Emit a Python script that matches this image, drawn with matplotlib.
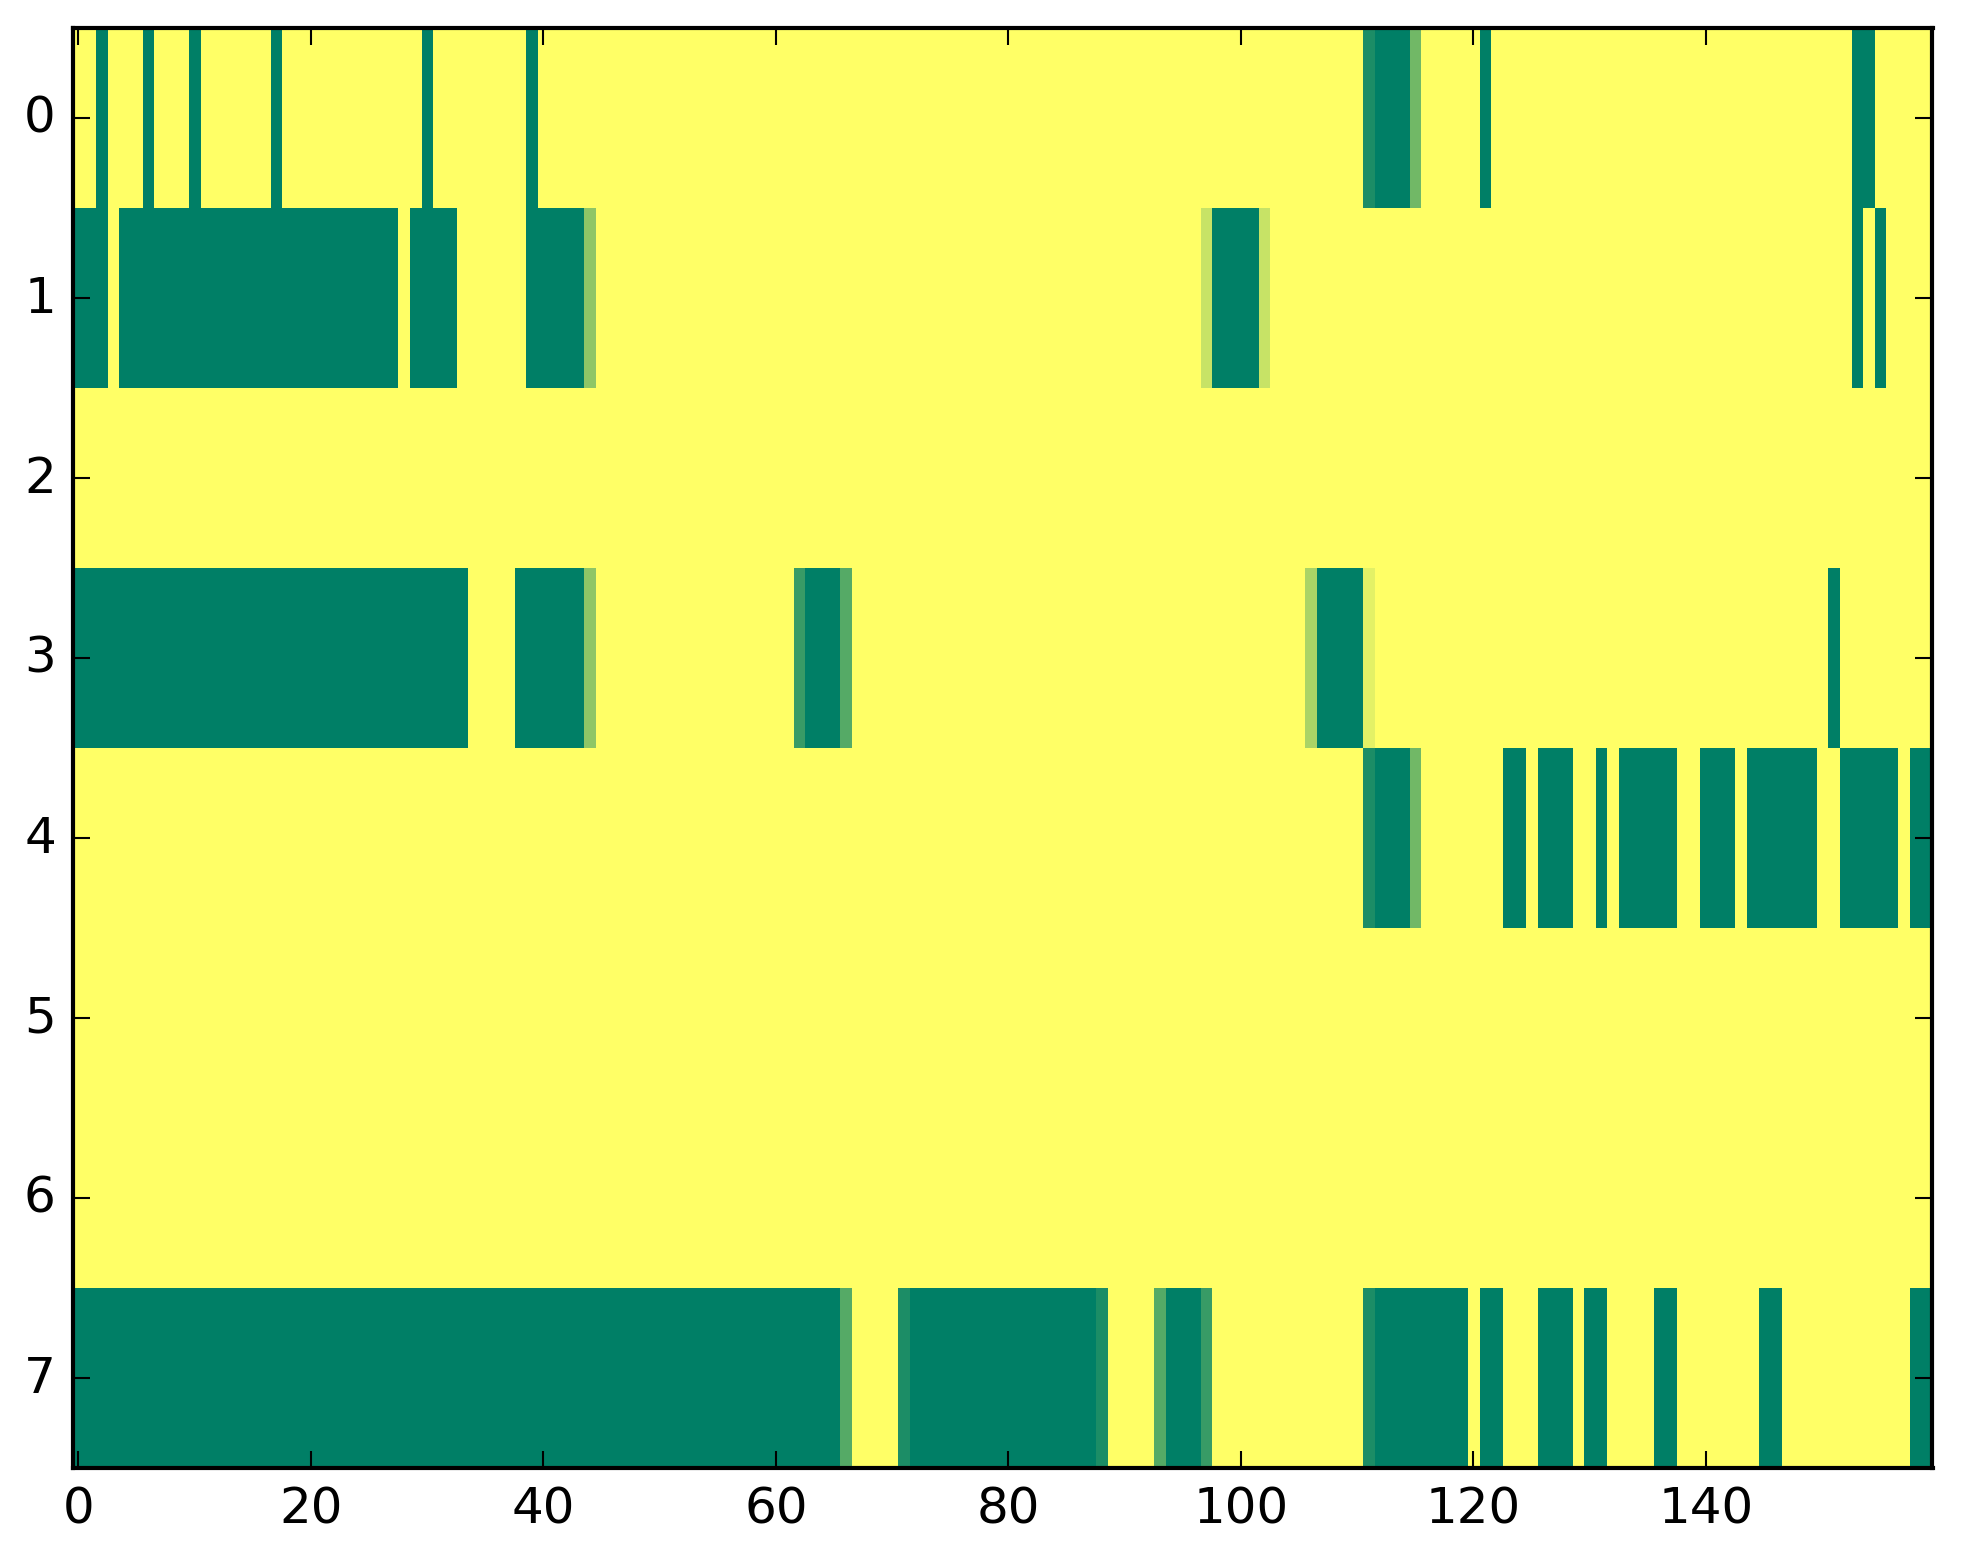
#---------------------------------------------------------------------------------
# IMPORT REQUIRED PACKAGES HERE

import numpy as np
import matplotlib
matplotlib.use('Agg')
import matplotlib.pyplot as plt

# END OF PACKAGE IMPORT
#---------------------------------------------------------------------------------

#---------------------------------------------------------------------------------
# DATA
# every cell is 1.0 (yellow) unless a run below says otherwise
# run = (first column, last column, value)

N_ROWS, N_COLS = 8, 160

row0_runs = [(2, 2, 0), (6, 6, 0), (10, 10, 0), (17, 17, 0), (30, 30, 0), (39, 39, 0),
             (111, 111, 1/9), (112, 114, 0), (115, 115, 4/9), (121, 121, 0), (153, 154, 0)]
row1_runs = [(0, 2, 0), (4, 27, 0), (29, 32, 0), (39, 43, 0), (44, 44, 5/9),
             (97, 97, 7/9), (98, 101, 0), (102, 102, 7/9), (153, 153, 0), (155, 155, 0)]
row2_runs = []
row3_runs = [(0, 33, 0), (38, 43, 0), (44, 44, 5/9), (62, 62, 2/9), (63, 65, 0),
             (66, 66, 3/9), (106, 106, 6/9), (107, 110, 0), (111, 111, 8/9), (151, 151, 0)]
row4_runs = [(111, 111, 1/9), (112, 114, 0), (115, 115, 4/9), (123, 124, 0), (126, 128, 0),
             (131, 131, 0), (133, 137, 0), (140, 142, 0), (144, 149, 0), (152, 156, 0),
             (158, 159, 0)]
row5_runs = []
row6_runs = []
row7_runs = [(0, 65, 0), (66, 66, 3/9), (71, 71, 1/9), (72, 87, 0), (88, 88, 1/9),
             (93, 93, 3/9), (94, 96, 0), (97, 97, 2/9), (111, 111, 1/9), (112, 119, 0),
             (121, 122, 0), (126, 128, 0), (130, 131, 0), (136, 137, 0), (145, 146, 0),
             (158, 159, 0)]

all_runs = [row0_runs, row1_runs, row2_runs, row3_runs,
            row4_runs, row5_runs, row6_runs, row7_runs]

x_ticks = [0, 20, 40, 60, 80, 100, 120, 140]
y_ticks = [0, 1, 2, 3, 4, 5, 6, 7]

#---------------------------------------------------------------------------------
# BUILD MATRIX

grid = np.ones((N_ROWS, N_COLS))
for r, runs in enumerate(all_runs):
    for c0, c1, val in runs:
        grid[r, c0:c1 + 1] = val

#---------------------------------------------------------------------------------
# PLOT

plt.style.use('classic')

W, H, DPI = 1963, 1564, 300
fig = plt.figure(figsize=(W / DPI, H / DPI), dpi=DPI)
ax = fig.add_axes([72.5 / W, 95.3 / H, 1860 / W, 1440 / H])

ax.imshow(grid, cmap='summer', vmin=0, vmax=1, aspect='auto', interpolation='nearest')
ax.set_xticks(x_ticks)
ax.set_yticks(y_ticks)
ax.set_xlim(-0.5, N_COLS - 0.5)
ax.set_ylim(N_ROWS - 0.5, -0.5)

fig.savefig('out.png', dpi=DPI)

# END OF FILE
#---------------------------------------------------------------------------------
